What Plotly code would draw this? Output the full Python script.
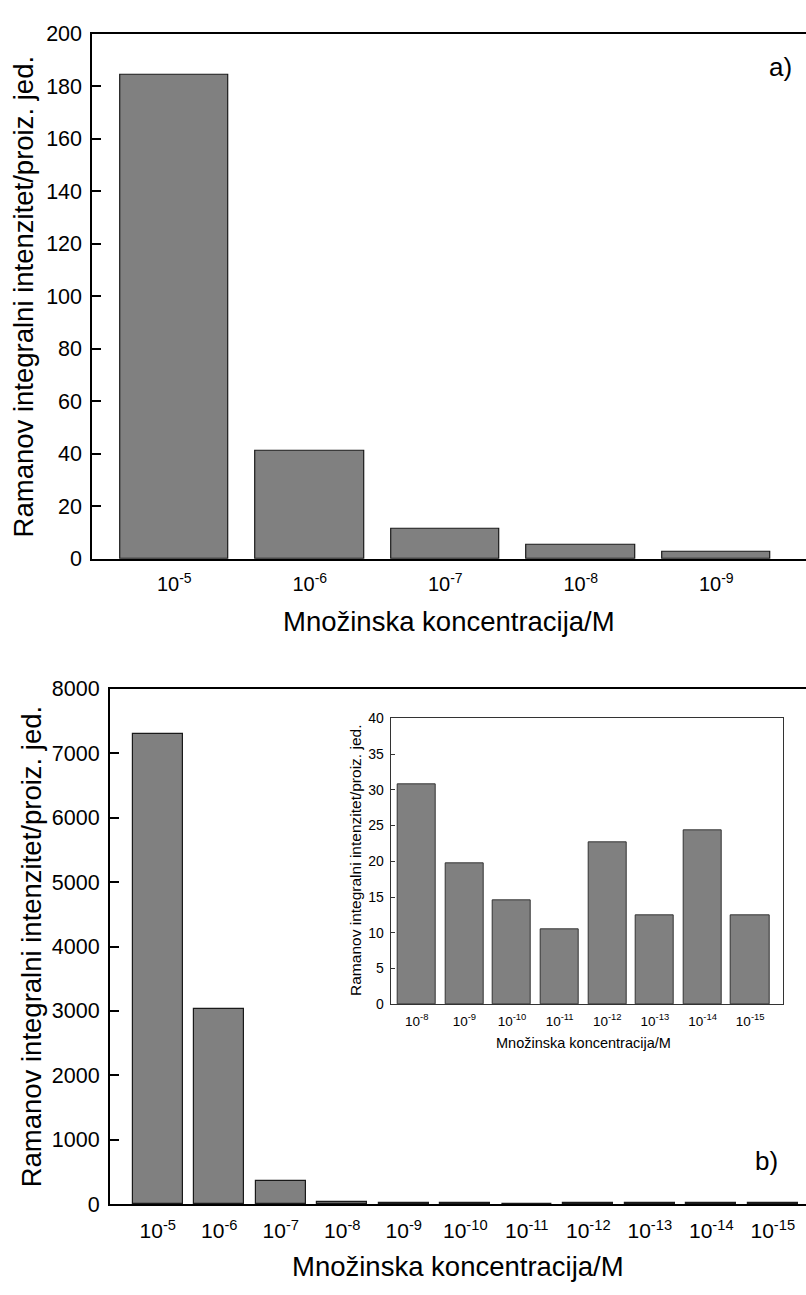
import plotly.graph_objects as go

# ---------------- data ----------------
conc_a = ["10<sup>-5</sup>", "10<sup>-6</sup>", "10<sup>-7</sup>", "10<sup>-8</sup>", "10<sup>-9</sup>"]
intensity_a = [184.5, 41.2, 11.5, 5.5, 2.7]

conc_b = ["10<sup>-5</sup>", "10<sup>-6</sup>", "10<sup>-7</sup>", "10<sup>-8</sup>", "10<sup>-9</sup>",
          "10<sup>-10</sup>", "10<sup>-11</sup>", "10<sup>-12</sup>", "10<sup>-13</sup>",
          "10<sup>-14</sup>", "10<sup>-15</sup>"]
intensity_b = [7300, 3030, 355, 30.8, 19.7, 14.5, 10.5, 22.7, 12.4, 24.3, 12.5]

conc_inset = ["10<sup>-8</sup>", "10<sup>-9</sup>", "10<sup>-10</sup>", "10<sup>-11</sup>",
              "10<sup>-12</sup>", "10<sup>-13</sup>", "10<sup>-14</sup>", "10<sup>-15</sup>"]
intensity_inset = [30.8, 19.7, 14.5, 10.5, 22.7, 12.4, 24.3, 12.5]

y_title = "Ramanov integralni intenzitet/proiz. jed."
x_title = "Množinska koncentracija/M"

# ---------------- layout helpers ----------------
W, H = 806, 1295
FONT = "Liberation Sans, Arial, sans-serif"
BAR_FILL = "#808080"


def px_x(p):
    return p / W


def px_y(p):
    return 1 - p / H


fig = go.Figure()

fig.add_trace(go.Bar(x=conc_a, y=intensity_a, xaxis="x", yaxis="y", width=0.8,
                     marker=dict(color=BAR_FILL, line=dict(color="#1a1a1a", width=1.2)),
                     showlegend=False))
fig.add_trace(go.Bar(x=conc_b, y=intensity_b, xaxis="x2", yaxis="y2", width=0.81,
                     marker=dict(color=BAR_FILL, line=dict(color="#1a1a1a", width=1.2)),
                     showlegend=False))
fig.add_trace(go.Bar(x=conc_inset, y=intensity_inset, xaxis="x3", yaxis="y3", width=0.8,
                     marker=dict(color=BAR_FILL, line=dict(color="#333333", width=1)),
                     showlegend=False))

main_x = dict(showline=True, linewidth=2, linecolor="black", mirror=True, ticks="",
              showgrid=False, zeroline=False, type="category",
              tickfont=dict(family=FONT, size=20, color="black"))
main_y = dict(showline=True, linewidth=2, linecolor="black", mirror=False, ticks="inside",
              ticklen=9, tickwidth=1.5, tickcolor="black", showgrid=False, zeroline=False,
              tickfont=dict(family=FONT, size=21.5, color="black"))

fig.update_layout(
    width=W, height=H,
    margin=dict(l=0, r=0, t=0, b=0),
    paper_bgcolor="white", plot_bgcolor="rgba(0,0,0,0)",
    bargap=0,
    xaxis=dict(main_x, domain=[px_x(92.3), 1], anchor="y", range=[-0.605, 4.662],
               ticklabelstandoff=6),
    yaxis=dict(main_y, domain=[px_y(558.3), px_y(23.3)], anchor="x", range=[0, 200], dtick=20,
               ticklabelstandoff=4),
    xaxis2=dict(main_x, domain=[px_x(110), 1], anchor="y2", range=[-0.777, 10.54],
                ticklabelstandoff=7, tickfont=dict(family=FONT, size=21, color="black")),
    yaxis2=dict(main_y, domain=[px_y(1215.7), px_y(690.7)], anchor="x2", range=[0, 8000], dtick=1000,
                ticklabelstandoff=4),
    xaxis3=dict(showline=True, linewidth=1.3, linecolor="#333333", mirror=True, ticks="",
                showgrid=False, zeroline=False, type="category",
                domain=[px_x(390.7), px_x(783.3)], anchor="y3", range=[-0.546, 7.695],
                tickfont=dict(family=FONT, size=13.5, color="black"), ticklabelstandoff=4),
    yaxis3=dict(showline=True, linewidth=1.3, linecolor="#333333", mirror=True, ticks="inside",
                ticklen=4, tickwidth=1, tickcolor="#333333", showgrid=False, zeroline=False,
                domain=[px_y(1012), px_y(720.7)], anchor="x3", range=[0, 40], dtick=5,
                tickfont=dict(family=FONT, size=14, color="black"), ticklabelstandoff=3),
)

annotations = [
    dict(text=x_title, x=px_x(449), y=px_y(622), font=dict(size=27.5)),
    dict(text=x_title, x=px_x(458), y=px_y(1279), font=dict(size=27.5)),
    dict(text=y_title, x=px_x(23), y=px_y(290.8), textangle=-90, font=dict(size=27.5)),
    dict(text=y_title, x=px_x(31), y=px_y(953), textangle=-90, font=dict(size=27.5)),
    dict(text=y_title, x=px_x(356), y=px_y(866), textangle=-90, font=dict(size=15.5)),
    dict(text=x_title, x=px_x(583), y=px_y(1051), font=dict(size=14.5)),
    dict(text="a)", x=px_x(780), y=px_y(57), font=dict(size=26)),
    dict(text="b)", x=px_x(766), y=px_y(1172), font=dict(size=26)),
]
for a in annotations:
    a.update(xref="paper", yref="paper", showarrow=False, xanchor="center", yanchor="middle")
    a["font"].update(family=FONT, color="black")
fig.update_layout(annotations=annotations)

fig.write_html("out.html",
               config={"displayModeBar": False},
               post_script="document.body.style.margin='0';document.body.style.overflow='hidden';")
